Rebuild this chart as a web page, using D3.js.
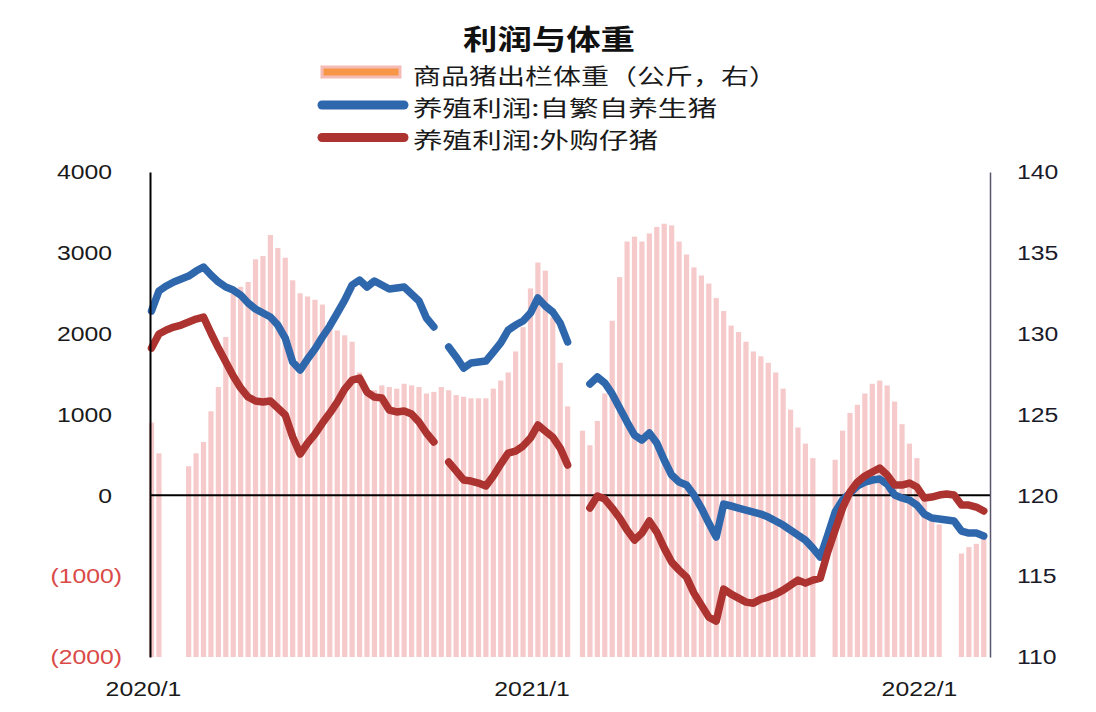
<!DOCTYPE html>
<html><head><meta charset="utf-8">
<script src="https://cdn.jsdelivr.net/npm/d3@7"></script>
<style>html,body{margin:0;padding:0;background:#fff;} svg{display:block;}</style>
</head><body>
<svg id="chart" width="1096" height="712"></svg>
<script>
const titleText = "利润与体重";
const legendLabels = ["商品猪出栏体重（公斤，右）", "养殖利润:自繁自养生猪", "养殖利润:外购仔猪"];
const startDate = "2020-01-09";

// 商品猪出栏体重（公斤）weekly, null = no data
const weight = [124.5,122.6,null,null,null,121.8,122.6,123.3,125.2,126.7,
129.8,132.5,132.9,133.2,134.6,134.8,136.1,135.3,134.7,133.3,
132.5,132.3,132.1,131.8,130.7,130.2,129.9,129.5,127.6,126.6,
126.5,126.8,126.7,126.6,126.9,126.8,126.7,126.3,126.4,126.7,
126.5,126.2,126.1,126.0,126.0,126.0,126.6,127.1,127.6,128.9,
130.4,132.8,134.4,133.9,131.0,128.2,125.5,null,124.0,123.1,
124.6,126.3,130.8,133.5,135.7,136.0,135.7,136.2,136.6,136.8,
136.7,135.7,134.9,134.1,133.6,133.1,132.2,131.4,130.5,130.1,
129.5,128.9,128.6,128.2,127.6,126.6,125.3,124.2,123.2,122.3,
null,null,122.2,124.0,125.1,125.6,126.3,126.9,127.1,126.8,
125.8,124.4,123.2,122.3,120.0,118.4,118.2,null,null,116.4,
116.8,117.0,117.4];

// 养殖利润:自繁自养生猪
const profitSelf = [2280,2528,2590,2640,2676,2713,2775,2825,2726,2640,
2577,2540,2478,2379,2305,2255,2206,2107,1946,1649,
1550,1686,1810,1959,2095,2255,2416,2602,2664,2577,
2651,2602,2553,2565,2577,2491,2404,2194,2083,null,
1835,1712,1575,1637,1649,1661,1773,1885,2045,2107,
2157,2255,2441,2342,2268,2132,1897,null,null,1378,
1464,1390,1254,1080,907,746,684,770,647,437,
251,164,127,4,-157,-343,-516,-108,-132,-157,
-182,-207,-232,-269,-318,-368,-430,-492,-554,-653,
-764,-492,-207,-58,29,115,164,189,202,140,
4,-33,-58,-120,-232,-281,-293,-306,-318,-442,
-467,-467,-504];

// 养殖利润:外购仔猪
const profitBuy = [1822,1996,2045,2082,2107,2144,2181,2206,2008,1822,
1649,1476,1328,1216,1167,1154,1167,1080,993,721,
511,647,758,894,1018,1154,1315,1426,1451,1278,
1216,1204,1055,1031,1043,1006,907,771,660,null,
412,302,190,177,152,115,239,387,523,548,
610,709,870,795,721,585,375,null,null,-157,
-9,-46,-157,-281,-430,-554,-467,-318,-454,-653,
-826,-925,-1012,-1210,-1358,-1507,-1556,-1160,-1222,-1272,
-1321,-1334,-1284,-1259,-1222,-1173,-1111,-1049,-1086,-1049,
-1024,-702,-430,-157,41,164,239,288,338,251,
127,127,152,103,-33,-21,4,16,4,-120,
-120,-145,-194];

const leftTicks = [4000, 3000, 2000, 1000, 0, -1000, -2000];
const rightTicks = [140, 135, 130, 125, 120, 115, 110];
const xTickDates = ["2020-01-01", "2021-01-01", "2022-01-01"];
const xTickLabels = ["2020/1", "2021/1", "2022/1"];

const parse = d3.utcParse("%Y-%m-%d");
const t0 = parse(startDate);
const dates = weight.map((_, i) => d3.utcDay.offset(t0, 7 * i));

const svg = d3.select("#chart");
const x = d3.scaleUtc().domain([parse("2020-01-01"), parse("2022-01-01")]).range([143, 919]);
const yL = d3.scaleLinear().domain([-2000, 4000]).range([657, 172]);
const yR = d3.scaleLinear().domain([110, 140]).range([657, 172]);

const CJK = "'Noto Sans CJK SC', 'Noto Sans', sans-serif";
const NUM = "'Liberation Sans', Arial, sans-serif";

function stretch(sel, k) {
  sel.each(function () {
    const t = d3.select(this);
    const xx = +t.attr("x") || 0;
    t.attr("x", xx / k).attr("transform", `scale(${k},1)`);
  });
}
function fitText(sel, w) {
  sel.attr("textLength", w).attr("lengthAdjust", "spacingAndGlyphs");
}

// bars
svg.append("g").selectAll("rect")
  .data(weight.map((v, i) => ({ v, d: dates[i] })).filter(d => d.v != null))
  .join("rect")
  .attr("x", d => x(d.d) - 2.6)
  .attr("width", 5.2)
  .attr("y", d => yR(d.v))
  .attr("height", d => yR(110) - yR(d.v))
  .attr("fill", "#f6caca");

// zero line
svg.append("line")
  .attr("x1", 150).attr("x2", 990)
  .attr("y1", yL(0)).attr("y2", yL(0))
  .attr("stroke", "#000").attr("stroke-width", 2);

// lines
const mk = arr => arr.map((v, i) => ({ v, d: dates[i] }));
const line = d3.line().defined(d => d.v != null).x(d => x(d.d)).y(d => yL(d.v));
svg.append("path").datum(mk(profitSelf)).attr("d", line)
  .attr("fill", "none").attr("stroke", "#2f67ad").attr("stroke-width", 7.5)
  .attr("stroke-linejoin", "round").attr("stroke-linecap", "round");
svg.append("path").datum(mk(profitBuy)).attr("d", line)
  .attr("fill", "none").attr("stroke", "#ac3330").attr("stroke-width", 7.5)
  .attr("stroke-linejoin", "round").attr("stroke-linecap", "round");

// left axis
const gL = svg.append("g").attr("transform", "translate(150,0)")
  .call(d3.axisLeft(yL).tickValues(leftTicks).tickSize(0).tickSizeOuter(0).tickPadding(38)
    .tickFormat(d => d < 0 ? `(${-d})` : `${d}`));
gL.select(".domain").attr("stroke", "#000").attr("stroke-width", 2);
gL.selectAll(".tick text")
  .attr("font-family", NUM).attr("font-size", 21)
  .attr("fill", d => d < 0 ? "#d94a48" : "#1a1a1a")
  .attr("x", d => d < 0 ? -28 : -38);
stretch(gL.selectAll(".tick text"), 1.18);

// right axis
const gR = svg.append("g").attr("transform", "translate(990,0)")
  .call(d3.axisRight(yR).tickValues(rightTicks).tickSize(0).tickSizeOuter(0).tickPadding(27));
gR.select(".domain").attr("stroke", "#56566e").attr("stroke-width", 1.5);
gR.selectAll(".tick text").attr("font-family", NUM).attr("font-size", 21).attr("fill", "#1a1a2a");
stretch(gR.selectAll(".tick text"), 1.18);

// bottom axis labels
const gB = svg.append("g").attr("transform", "translate(0,657)")
  .call(d3.axisBottom(x).tickValues(xTickDates.map(parse)).tickSize(0).tickPadding(24)
    .tickFormat((d, i) => xTickLabels[i]));
gB.select(".domain").remove();
gB.selectAll(".tick text").attr("font-family", NUM).attr("font-size", 21).attr("fill", "#1a1a1a");
stretch(gB.selectAll(".tick text"), 1.18);

// title
svg.append("text").attr("x", 549).attr("y", 38)
  .attr("text-anchor", "middle").attr("dominant-baseline", "central")
  .attr("font-family", CJK).attr("font-weight", "bold").attr("font-size", 28)
  .attr("fill", "#111").text(titleText).call(fitText, 172);

// legend
const lg = svg.append("g");
lg.append("rect").attr("x", 322).attr("y", 67).attr("width", 78).attr("height", 10)
  .attr("fill", "#f79646").attr("stroke", "#f5bcb6").attr("stroke-width", 3);
lg.append("line").attr("x1", 322).attr("x2", 404).attr("y1", 105).attr("y2", 105)
  .attr("stroke", "#2f67ad").attr("stroke-width", 9).attr("stroke-linecap", "round");
lg.append("line").attr("x1", 322).attr("x2", 404).attr("y1", 137.5).attr("y2", 137.5)
  .attr("stroke", "#ac3330").attr("stroke-width", 9).attr("stroke-linecap", "round");
const legY = [73.5, 106, 138];
const legW = [364, 304, 245];
legendLabels.forEach((s, i) => {
  lg.append("text").attr("x", 413).attr("y", legY[i])
    .attr("dominant-baseline", "central")
    .attr("font-family", CJK).attr("font-size", 22).attr("fill", "#1a1a1a")
    .text(s).call(fitText, legW[i]);
});
</script>
</body></html>
